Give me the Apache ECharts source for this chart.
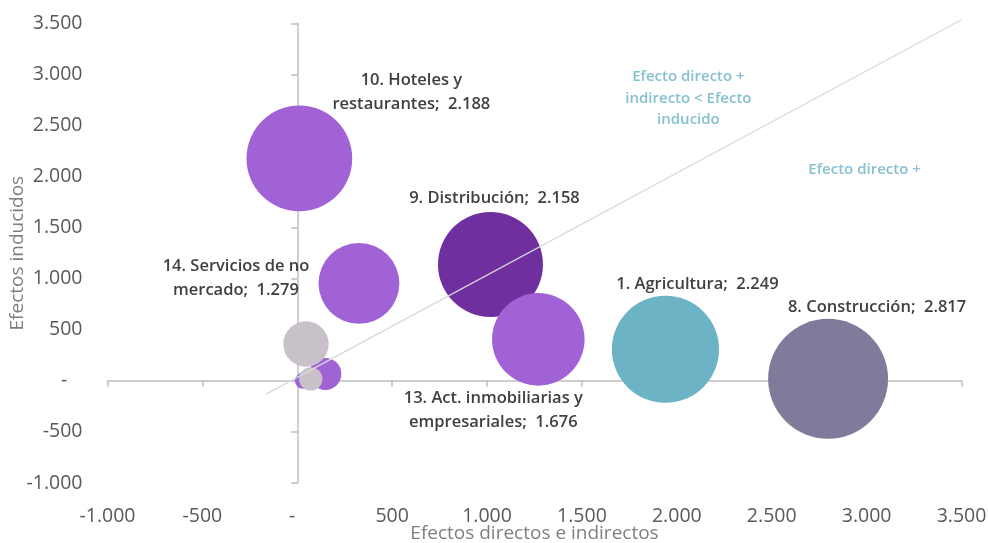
<!DOCTYPE html>
<html>
<head>
<meta charset="utf-8">
<script src="https://cdn.jsdelivr.net/npm/echarts@6/dist/echarts.min.js"></script>
<style>
html,body{margin:0;padding:0;background:#ffffff;}
#chart{width:988px;height:543px;}
</style>
</head>
<body>
<div id="chart"></div>
<script>
// ---- data ----
const sectorNames = [
  '10. Hoteles y\nrestaurantes',
  '9. Distribución',
  '13. Act. inmobiliarias y\nempresariales',
  '14. Servicios de no\nmercado',
  '', '', '', '',
  '1. Agricultura',
  '8. Construcción'
];
const directIndirect = [11, 1018, 1270, 325, 30, 148, 46, 71, 1940, 2797];
const induced        = [2177, 1140, 406, 954, 0, 68, 361, 19, 309, 20];
const totalEffect    = [2188, 2158, 1676, 1279, 50, 200, 403, 107, 2249, 2817];
const showLabel      = [true, true, true, true, false, false, false, false, true, true];

const xTickLabels = ['-1.000', '-500', '-  ', '500', '1.000', '1.500', '2.000', '2.500', '3.000', '3.500'];
const yTickLabels = ['-1.000', '-500', '-   ', '500', '1.000', '1.500', '2.000', '2.500', '3.000', '3.500'];
const axisMin = -1000, axisMax = 3500, axisStep = 500;

const diagonalX = [-165, 3500];
const diagonalY = [-130, 3535];

const noteTexts = ['Efecto directo +\nindirecto < Efecto\ninducido', 'Efecto directo +'];
const noteX = [2061, 2989];
const noteY = [2766, 2071];

// ---- styles / layout (kept apart from data) ----
const bubbleColors = ['#A062D4', '#6F2F9F', '#A062D4', '#A062D4', '#A062D4', '#A062D4',
                      '#C8C1C9', '#C8C1C9', '#6DB3C6', '#7F7B9B'];
const labelOffsets = [[112, -66], [4, -66], [-45, 71], [-123, -5], [0, 0], [0, 0], [0, 0], [0, 0], [32, -65], [49, -72]];

const FONT = "'Open Sans', 'Noto Sans', sans-serif";
const fmt = v => String(v).replace(/\B(?=(\d{3})+(?!\d))/g, '.');

const bubbleData = directIndirect.map((x, i) => ({
  value: [x, induced[i], totalEffect[i]],
  itemStyle: { color: bubbleColors[i], opacity: 1 },
  label: {
    show: showLabel[i],
    formatter: sectorNames[i] + ';  ' + fmt(totalEffect[i])
  }
}));

const noteData = noteTexts.map((t, i) => ({ value: [noteX[i], noteY[i]], label: { formatter: t } }));

const labelAxisCommon = {
  type: 'value', min: axisMin, max: axisMax, interval: axisStep,
  axisLine: { show: false, onZero: false },
  axisTick: { show: false },
  splitLine: { show: false },
  nameMoveOverlap: false
};
const lineAxisCommon = {
  type: 'value', min: axisMin, max: axisMax, interval: axisStep,
  axisLine: { show: true, onZero: true, lineStyle: { color: '#BFBFBF', width: 1.5 } },
  axisTick: { show: true, length: 6, lineStyle: { color: '#BFBFBF', width: 1.5 } },
  axisLabel: { show: false },
  splitLine: { show: false }
};

const chart = echarts.init(document.getElementById('chart'), null, { renderer: 'canvas' });
chart.setOption({
  animation: false,
  backgroundColor: '#ffffff',
  grid: { left: 107.5, right: 26.5, top: 23.3, bottom: 60, containLabel: false, outerBoundsMode: 'none' },
  xAxis: [
    Object.assign({}, labelAxisCommon, {
      position: 'bottom',
      name: 'Efectos directos e indirectos',
      nameLocation: 'middle',
      nameGap: 41,
      nameTextStyle: { color: '#7F7F7F', fontSize: 19, fontFamily: FONT },
      axisLabel: { color: '#595959', fontSize: 19.5, fontFamily: FONT, margin: 23,
                   formatter: (v, i) => xTickLabels[i] }
    }),
    Object.assign({}, lineAxisCommon, { position: 'bottom' })
  ],
  yAxis: [
    Object.assign({}, labelAxisCommon, {
      position: 'left',
      name: 'Efectos inducidos',
      nameLocation: 'middle',
      nameGap: 80,
      nameTextStyle: { color: '#7F7F7F', fontSize: 19, fontFamily: FONT },
      axisLabel: { color: '#595959', fontSize: 19.5, fontFamily: FONT, margin: 25,
                   formatter: (v, i) => yTickLabels[i] }
    }),
    Object.assign({}, lineAxisCommon, { position: 'left' })
  ],
  series: [
    {
      type: 'scatter',
      xAxisIndex: 0, yAxisIndex: 0,
      data: bubbleData,
      symbol: 'circle',
      symbolSize: d => 2.26 * Math.sqrt(d[2]),
      label: {
        position: 'inside',
        color: '#404040', fontSize: 16.5, fontWeight: 600, fontFamily: FONT,
        lineHeight: 24, align: 'center'
      },
      labelLayout: p => ({ dx: labelOffsets[p.dataIndex][0], dy: labelOffsets[p.dataIndex][1], hideOverlap: false }),
      silent: true,
      z: 3
    },
    {
      type: 'line',
      xAxisIndex: 0, yAxisIndex: 0,
      data: diagonalX.map((x, i) => [x, diagonalY[i]]),
      symbol: 'none',
      clip: false,
      lineStyle: { color: '#D9D9D9', width: 1.3 },
      silent: true,
      z: 5
    },
    {
      type: 'scatter',
      xAxisIndex: 0, yAxisIndex: 0,
      data: noteData,
      symbolSize: 1,
      itemStyle: { color: 'rgba(0,0,0,0)' },
      label: {
        show: true, position: 'inside',
        color: '#68B0C6', fontSize: 15, fontWeight: 600, fontFamily: FONT,
        lineHeight: 21.5, align: 'center'
      },
      silent: true,
      z: 6
    }
  ]
});
</script>
</body>
</html>
